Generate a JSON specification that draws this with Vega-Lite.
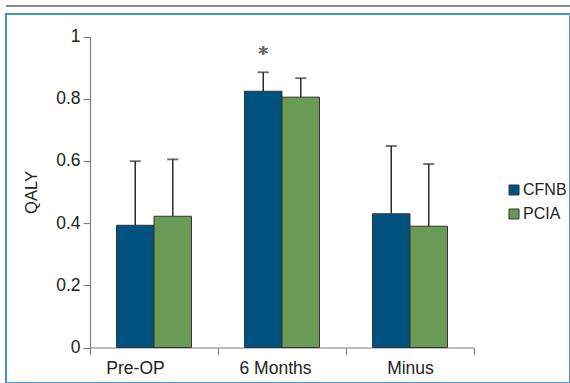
{
  "$schema": "https://vega.github.io/schema/vega-lite/v6.json",
  "autosize": {"type": "none"},
  "padding": {"left": 6, "top": 14, "right": 0, "bottom": 0},
  "width": 564,
  "height": 369,
  "background": "white",
  "config": {
    "view": {"stroke": "#4b93c4", "strokeWidth": 2},
    "font": "Liberation Sans"
  },
  "data": {
    "values": [
      {"time": "Pre-OP", "group": "CFNB", "qaly": 0.393, "upper": 0.599},
      {"time": "Pre-OP", "group": "PCIA", "qaly": 0.422, "upper": 0.605},
      {"time": "6 Months", "group": "CFNB", "qaly": 0.824, "upper": 0.885},
      {"time": "6 Months", "group": "PCIA", "qaly": 0.805, "upper": 0.866},
      {"time": "Minus", "group": "CFNB", "qaly": 0.430, "upper": 0.648},
      {"time": "Minus", "group": "PCIA", "qaly": 0.390, "upper": 0.590}
    ]
  },
  "layer": [
    {
      "mark": {"type": "bar", "stroke": "#333333", "strokeWidth": 1},
      "encoding": {
        "x": {
          "field": "time", "type": "nominal", "sort": ["Pre-OP", "6 Months", "Minus"],
          "scale": {"range": [84, 468], "paddingInner": 0, "paddingOuter": 0},
          "axis": {
            "title": null, "labelAngle": 0, "offset": -35.5,
            "domainColor": "#808080", "domainWidth": 1.2,
            "tickColor": "#808080", "tickWidth": 1.2, "tickSize": 7, "tickBand": "extent",
            "labelFontSize": 17.5, "labelColor": "#222222", "labelPadding": 5,
            "labelOffset": {"condition": [{"test": "datum.value === 'Pre-OP'", "value": -19}, {"test": "datum.value === '6 Months'", "value": -7}], "value": 0}
          }
        },
        "xOffset": {"field": "group", "type": "nominal", "scale": {"domain": ["CFNB", "PCIA"], "paddingInner": 0, "paddingOuter": 0.707}},
        "y": {
          "field": "qaly", "type": "quantitative",
          "scale": {"domain": [0, 1], "range": [333.5, 22.5], "nice": false, "zero": false},
          "axis": {
            "title": "QALY", "offset": -84, "grid": false, "values": [0, 0.2, 0.4, 0.6, 0.8, 1], "format": "~g",
            "domainColor": "#808080", "domainWidth": 1.2,
            "tickColor": "#808080", "tickWidth": 1.2, "tickSize": 7,
            "labelFontSize": 17.5, "labelColor": "#222222", "labelPadding": 3,
            "titleFontSize": 16.5, "titleFontWeight": "normal", "titleColor": "#222222", "titlePadding": 16
          }
        },
        "color": {
          "field": "group", "type": "nominal",
          "scale": {"domain": ["CFNB", "PCIA"], "range": ["#00537f", "#6a9b56"]},
          "legend": {
            "title": null, "orient": "none", "legendX": 500, "legendY": 168,
            "symbolType": "square", "symbolSize": 100, "symbolStrokeColor": "#333333",
            "symbolStrokeWidth": 1, "symbolOpacity": 1,
            "labelFontSize": 16, "labelColor": "#222222", "labelOffset": 1,
            "rowPadding": 8, "padding": 0
          }
        }
      }
    },
    {
      "mark": {"type": "rule", "color": "#2a2a2a", "strokeWidth": 1.5},
      "encoding": {
        "x": {"field": "time", "type": "nominal", "sort": ["Pre-OP", "6 Months", "Minus"]},
        "xOffset": {"field": "group", "type": "nominal"},
        "y": {"field": "qaly", "type": "quantitative"},
        "y2": {"field": "upper"}
      }
    },
    {
      "mark": {"type": "tick", "color": "#2a2a2a", "thickness": 1.8, "size": 11, "orient": "horizontal"},
      "encoding": {
        "x": {"field": "time", "type": "nominal", "sort": ["Pre-OP", "6 Months", "Minus"]},
        "xOffset": {"field": "group", "type": "nominal"},
        "y": {"field": "upper", "type": "quantitative"}
      }
    },
    {
      "mark": {"type": "text", "fontSize": 20, "font": "DejaVu Sans", "color": "#666666", "baseline": "middle"},
      "encoding": {
        "x": {"datum": "6 Months"},
        "xOffset": {"datum": "CFNB"},
        "y": {"datum": 0.945},
        "text": {"value": "*"}
      }
    },
    {
      "mark": {"type": "rule", "color": "#8a8a8a", "strokeWidth": 2},
      "encoding": {
        "y": {"datum": 1.098}
      }
    }
  ]
}
